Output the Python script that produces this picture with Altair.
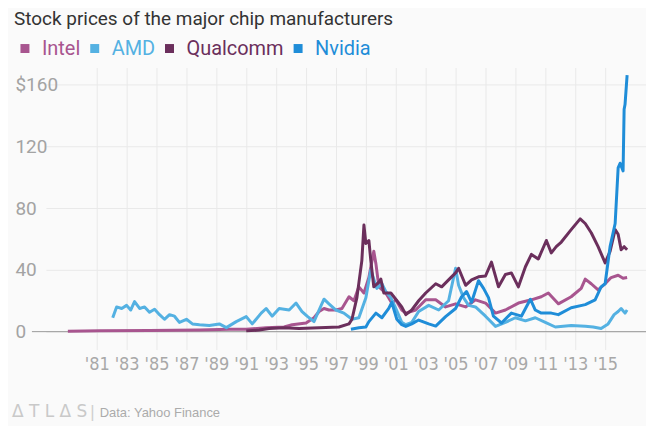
import altair as alt
import pandas as pd

COMPANIES = ["Intel", "AMD", "Qualcomm", "Nvidia"]
COLORS = ["#a8558f", "#54b1e2", "#6b2f5c", "#1f8dd8"]

# tick labels: year ends of odd years
TICK_YEARS = [1981, 1983, 1985, 1987, 1989, 1991, 1993, 1995, 1997,
              1999, 2001, 2003, 2005, 2007, 2009, 2011, 2013, 2015]
Y_TICKS = [0, 40, 80, 120, 160]

intel_year = [1980.07, 1982.2, 1985.53, 1988.87, 1990.87, 1992.0, 1993.33, 1994.53,
              1995.07, 1996.0, 1996.53, 1996.87, 1997.2, 1997.53, 1998.0, 1998.4,
              1998.87, 1999.2, 1999.53, 1999.87, 2000.2, 2000.53, 2000.67, 2000.87,
              2001.33, 2001.73, 2002.0, 2002.4, 2002.67, 2003.33, 2004.0, 2004.67,
              2005.33, 2006.0, 2006.67, 2007.33, 2008.0, 2008.67, 2009.33, 2010.2,
              2011.07, 2011.73, 2012.2, 2012.87, 2013.73, 2014.4, 2014.67, 2015.07,
              2015.53, 2016.0, 2016.4, 2016.87, 2017.2, 2017.47]
intel_price = [0.3, 0.5, 0.8, 1.0, 1.5, 1.5, 2.6, 3.0,
               4.5, 5.6, 9.0, 13.0, 15.0, 14.0, 14.0, 15.0,
               22.6, 20.0, 29.0, 25.0, 35.0, 52.0, 44.0, 29.0,
               25.0, 18.5, 20.6, 14.0, 12.0, 14.0, 20.6, 20.6,
               16.0, 18.0, 16.0, 20.6, 18.5, 12.0, 14.0, 18.5,
               20.6, 22.6, 25.0, 18.0, 22.6, 28.0, 34.0, 31.0,
               27.0, 31.0, 35.0, 36.5, 34.5, 35.0]

amd_year = [1983.07, 1983.33, 1983.67, 1984.0, 1984.27, 1984.53, 1984.87, 1985.2,
            1985.53, 1985.87, 1986.2, 1986.53, 1986.87, 1987.2, 1987.53, 1988.0,
            1988.4, 1988.87, 1989.53, 1990.2, 1990.67, 1991.33, 1992.0, 1992.4,
            1993.0, 1993.33, 1993.73, 1994.2, 1994.87, 1995.33, 1995.73, 1996.07,
            1996.53, 1996.87, 1997.2, 1997.53, 1998.0, 1998.53, 1999.07, 1999.53,
            2000.0, 2000.33, 2000.53, 2000.73, 2001.07, 2001.33, 2001.67, 2002.0,
            2002.4, 2002.67, 2003.07, 2003.53, 2004.2, 2004.87, 2005.53, 2006.0,
            2006.2, 2006.53, 2006.87, 2007.33, 2008.0, 2008.67, 2009.33, 2010.0,
            2010.67, 2011.33, 2012.0, 2012.67, 2013.2, 2013.73, 2014.67, 2015.2,
            2015.73, 2016.2, 2016.6, 2016.87, 2017.07, 2017.33, 2017.47]
amd_price = [9.0, 16.0, 15.0, 17.0, 14.0, 19.5, 15.0, 16.0,
             12.5, 14.5, 11.0, 8.0, 11.0, 10.0, 6.0, 8.0,
             5.0, 4.5, 4.0, 5.0, 2.6, 6.5, 9.7, 5.0,
             12.0, 15.0, 10.0, 15.0, 14.0, 18.5, 13.0, 10.0,
             6.5, 14.0, 21.0, 18.0, 14.0, 12.0, 8.0, 9.0,
             22.0, 40.0, 34.0, 28.0, 31.0, 26.0, 22.0, 15.0,
             6.0, 4.5, 6.0, 13.0, 17.0, 14.0, 20.0, 41.0,
             30.0, 22.0, 17.0, 16.0, 10.0, 3.4, 6.0, 9.0,
             7.0, 9.0, 6.0, 3.0, 3.5, 4.0, 3.5, 3.0,
             2.0, 5.0, 11.0, 13.0, 15.0, 12.0, 14.0]

qcom_year = [1992.0, 1992.87, 1993.53, 1994.53, 1995.53, 1996.87, 1998.2, 1998.87,
             1999.07, 1999.4, 1999.73, 1999.87, 2000.0, 2000.2, 2000.33, 2000.53,
             2000.87, 2001.0, 2001.2, 2001.67, 2002.0, 2002.4, 2002.67, 2003.07,
             2003.53, 2004.0, 2004.67, 2005.07, 2005.53, 2006.0, 2006.2, 2006.67,
             2007.07, 2007.53, 2008.0, 2008.4, 2008.87, 2009.33, 2009.73, 2010.2,
             2010.67, 2011.07, 2011.53, 2012.07, 2012.4, 2012.73, 2013.07, 2013.73,
             2014.33, 2014.67, 2015.07, 2015.53, 2016.0, 2016.33, 2016.67, 2016.87,
             2017.07, 2017.27, 2017.47]
qcom_price = [0.5, 1.0, 2.0, 2.5, 2.0, 2.5, 3.0, 5.0,
              8.0, 22.0, 46.0, 69.0, 57.0, 59.0, 46.0, 29.0,
              32.0, 34.0, 25.0, 25.0, 21.0, 16.0, 11.0, 14.0,
              20.0, 25.0, 31.0, 29.0, 33.5, 38.0, 41.0, 30.0,
              33.5, 35.5, 36.0, 45.0, 29.0, 37.0, 38.0, 29.0,
              42.0, 50.0, 47.0, 59.0, 51.0, 55.0, 58.0, 66.0,
              73.0, 70.0, 64.0, 55.0, 44.5, 52.0, 66.0, 63.0,
              53.0, 55.0, 53.0]

nvda_year = [1999.0, 1999.53, 2000.0, 2000.2, 2000.67, 2001.07, 2001.53, 2001.73,
             2002.07, 2002.4, 2002.67, 2003.07, 2003.53, 2004.2, 2004.67, 2005.33,
             2006.0, 2006.4, 2006.73, 2007.07, 2007.53, 2007.87, 2008.2, 2008.53,
             2009.07, 2009.73, 2010.4, 2011.0, 2011.33, 2011.73, 2012.4, 2012.87,
             2013.73, 2014.67, 2015.33, 2015.73, 2016.0, 2016.33, 2016.67, 2016.87,
             2017.0, 2017.2, 2017.27, 2017.33, 2017.47]
nvda_price = [1.5, 2.5, 3.0, 6.5, 12.0, 9.0, 15.0, 19.0,
              8.0, 4.5, 3.4, 5.0, 7.5, 5.0, 3.6, 9.7,
              15.0, 22.6, 26.0, 19.0, 33.0, 28.0, 22.0, 10.0,
              5.6, 12.0, 10.0, 21.0, 14.0, 12.0, 12.0, 11.0,
              15.5, 17.5, 20.6, 29.0, 31.0, 55.0, 70.0, 106.0,
              109.0, 104.0, 144.0, 147.0, 166.0]

SERIES = {
    "Intel": (intel_year, intel_price),
    "AMD": (amd_year, amd_price),
    "Qualcomm": (qcom_year, qcom_price),
    "Nvidia": (nvda_year, nvda_price),
}

rows = []
for name, (ys, ps) in SERIES.items():
    for yv, pv in zip(ys, ps):
        rows.append({"company": name, "year": yv, "price": pv})
df = pd.DataFrame(rows)

W, H = 602, 265
LABEL_FONT = "Roboto, Liberation Sans, sans-serif"
NARROW_FONT = "Liberation Sans Narrow, DejaVu Sans Condensed, Roboto, sans-serif"

x_scale = alt.Scale(domain=[1978.6, 2018.733], nice=False, zero=False)
y_scale = alt.Scale(domain=[0, 171], nice=False)

x_axis = alt.Axis(
    values=[t + 1 for t in TICK_YEARS],
    labelExpr="\"'\" + substring(format(datum.value - 1, 'd'), 2, 4)",
    grid=True, gridColor="#e9e9e9", ticks=True, tickColor="#e9e9e9", tickSize=18,
    domain=False, labelFontSize=18, labelColor="#a8a8a8", labelFont=NARROW_FONT,
    labelPadding=6, title=None, labelFlush=False, labelOverlap=False,
)
y_axis = alt.Axis(
    values=Y_TICKS,
    labelExpr="datum.value == 160 ? '$160' : datum.label",
    grid=True, gridColor="#e9e9e9", domain=False, ticks=False, tickSize=0,
    labelAlign="left", labelBaseline="middle", labelPadding=31,
    labelFontSize=19, labelColor="#a3a3a3", labelFont=LABEL_FONT, title=None,
)
legend = alt.Legend(
    orient="none", legendX=-31, legendY=-29, direction="horizontal", title=None,
    symbolType="square", symbolSize=16, symbolStrokeWidth=5, symbolOpacity=1,
    labelFontSize=20, labelFont=LABEL_FONT, labelOffset=7, columnPadding=2,
    padding=0, gridAlign="none",
    labelColor=alt.ExprRef(expr="scale('color', datum.value)"),
)
color = alt.Color("company:N", scale=alt.Scale(domain=COMPANIES, range=COLORS), legend=legend)

baseline = alt.Chart(pd.DataFrame({"price": [0]})).mark_rule(
    color="#9a9a9a", strokeWidth=1
).encode(y=alt.Y("price:Q", scale=y_scale, axis=y_axis), x=alt.value(-14), x2=alt.value(W))

layers = [baseline]
for name in COMPANIES:
    layers.append(
        alt.Chart(df).transform_filter(alt.datum.company == name).mark_line(
            strokeWidth=3, strokeJoin="round"
        ).encode(
            x=alt.X("year:Q", scale=x_scale, axis=x_axis),
            y=alt.Y("price:Q", scale=y_scale, axis=y_axis),
            color=color,
        )
    )

footer_logo = alt.Chart(pd.DataFrame({"t": ["Δ T L Δ S"]})).mark_text(
    align="left", baseline="alphabetic", fontSize=17, color="#c9c9c9",
    font="DejaVu Sans, sans-serif", fontWeight="normal"
).encode(text="t:N", x=alt.value(-34), y=alt.value(351))
footer_sep = alt.Chart(pd.DataFrame({"t": ["|"]})).mark_text(
    align="left", baseline="alphabetic", fontSize=16, color="#cfcfcf",
    font="DejaVu Sans, sans-serif"
).encode(text="t:N", x=alt.value(44), y=alt.value(351))
footer_src = alt.Chart(pd.DataFrame({"t": ["Data: Yahoo Finance"]})).mark_text(
    align="left", baseline="alphabetic", fontSize=13, color="#ababab",
    font="Liberation Sans, Arial, sans-serif"
).encode(text="t:N", x=alt.value(54), y=alt.value(351))

chart = alt.layer(*layers, footer_logo, footer_sep, footer_src).properties(
    width=W, height=H,
    title=alt.TitleParams(
        "Stock prices of the major chip manufacturers", anchor="start", frame="group",
        dx=-32, fontSize=19, font=LABEL_FONT, fontWeight="normal", color="#333333",
        offset=10,
    ),
    padding={"left": 38, "top": 59, "right": 0, "bottom": 94},
    autosize="none",
    background="#fafafa",
).configure_view(stroke=None)

chart.save("out.html", embed_options={"renderer": "svg", "actions": False})
